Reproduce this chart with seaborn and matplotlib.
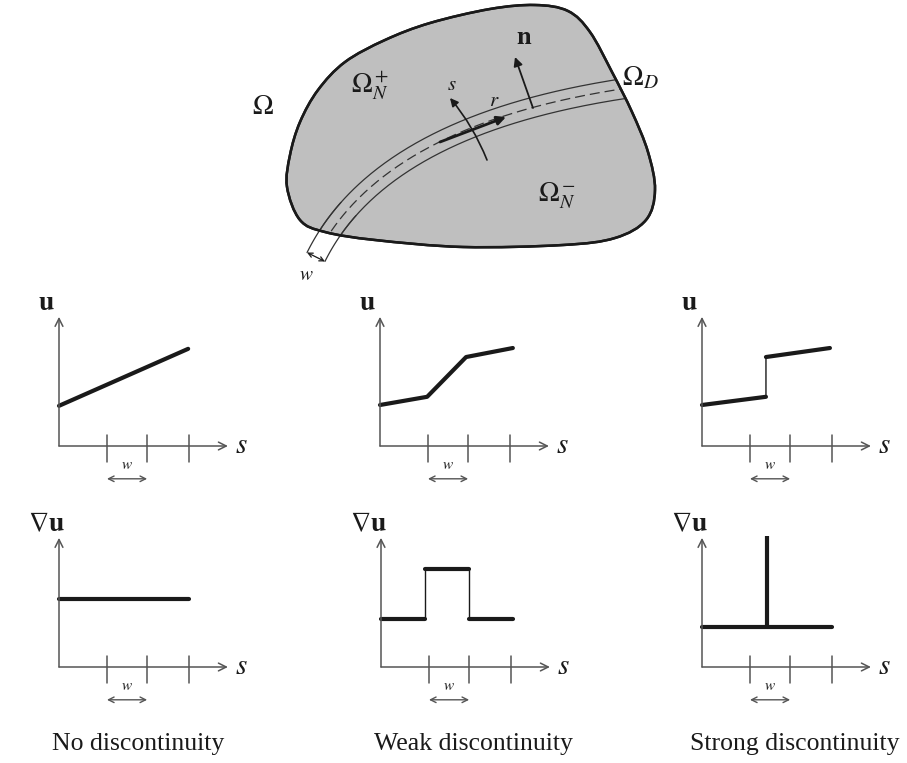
import numpy as np
import pandas as pd
import matplotlib
matplotlib.use("Agg")
import matplotlib.pyplot as plt
from matplotlib.path import Path
from matplotlib.patches import PathPatch
import seaborn as sns

sns.set_theme(style="white")
plt.rcParams['font.family'] = ['Liberation Serif', 'DejaVu Serif']
plt.rcParams['mathtext.fontset'] = 'stix'

### Data for the six small graphs (1 unit = 41 px, origin at the axes corner)
tick_pos = [1.17, 2.15, 3.17]
w_span = [1.17, 2.15]

u_none_x = [0.0, 3.15]
u_none_y = [0.98, 2.37]
u_weak_x = [0.0, 1.15, 2.10, 3.24]
u_weak_y = [1.00, 1.20, 2.17, 2.39]
u_strong_x = [0.0, 1.56, 1.56, 3.12]
u_strong_y = [1.00, 1.20, 2.17, 2.39]

du_none_x = [0.0, 3.17]
du_none_y = [1.66, 1.66]
du_weak_x = [0.0, 1.08, 1.08, 2.15, 2.15, 3.22]
du_weak_y = [1.17, 1.17, 2.39, 2.39, 1.17, 1.17]
du_strong_x = [0.0, 3.17]
du_strong_y = [0.98, 0.98]
spike_x = [1.59, 1.59]
spike_y = [0.98, 3.20]

titles = ["No discontinuity", "Weak discontinuity", "Strong discontinuity"]
title_x = [138, 473, 795]

### Domain sketch (pixel coords of the picture)
blob_pts = [(287, 187), (290, 155), (300, 122), (318, 90), (345, 62), (385, 40),
            (430, 23), (490, 9), (535, 5), (568, 11), (590, 32),
            (612, 72), (632, 112), (648, 152), (655, 190), (646, 220),
            (615, 238), (563, 245), (463, 247), (375, 240), (325, 232), (300, 220)]
band_ctrl = [(316, 257), (380, 128), (615, 90)]
band_half = 10

W, H, U = 907, 763, 41.0
fig = plt.figure(figsize=(W / 100, H / 100), dpi=100)
axc = '#555555'
ink = '#1a1a1a'


def closed_spline(pts):
    # Catmull-Rom through the outline points, as cubic Bezier pieces
    p = np.array(pts, dtype=float)
    n = len(p)
    verts, codes = [p[0]], [Path.MOVETO]
    for i in range(n):
        p0, p1, p2, p3 = p[i - 1], p[i], p[(i + 1) % n], p[(i + 2) % n]
        verts += [p1 + (p2 - p0) / 6, p2 - (p3 - p1) / 6, p2]
        codes += [Path.CURVE4] * 3
    return Path(verts, codes)


def band_line(t, off):
    a, b, c = [np.array(q, dtype=float) for q in band_ctrl]
    t = t[:, None]
    pt = (1 - t) ** 2 * a + 2 * t * (1 - t) * b + t ** 2 * c
    d = 2 * (1 - t) * (b - a) + 2 * t * (c - b)
    d = d / np.linalg.norm(d, axis=1)[:, None]
    nrm = np.column_stack([d[:, 1], -d[:, 0]])
    q = pt + off * nrm
    return q[:, 0], q[:, 1]


top = fig.add_axes([0, (H - 290) / H, 1, 290 / H])
top.set_xlim(0, W)
top.set_ylim(290, 0)
top.axis('off')

blob = PathPatch(closed_spline(blob_pts), facecolor='#bfbfbf', edgecolor=ink, lw=1.8, zorder=1)
top.add_patch(blob)

t_in = np.linspace(0, 1.08, 200)
t_tail = np.linspace(0, 0.2, 40)
for off in (band_half, -band_half):
    bx, by = band_line(t_in, off)
    ln, = top.plot(bx, by, color='#333333', lw=0.9, zorder=2)
    ln.set_clip_path(blob)
    bx, by = band_line(t_tail, off)
    top.plot(bx, by, color='#333333', lw=0.9, zorder=2)
bx, by = band_line(t_in, 0)
ln, = top.plot(bx, by, color='#333333', lw=0.9, dashes=(8, 4), zorder=2)
ln.set_clip_path(blob)
blob_edge = PathPatch(closed_spline(blob_pts), facecolor='none', edgecolor=ink, lw=1.8, zorder=3)
top.add_patch(blob_edge)

cx0, cy0 = band_line(np.array([0.0]), band_half)
cx1, cy1 = band_line(np.array([0.0]), -band_half)
top.annotate('', xy=(cx1[0], cy1[0]), xytext=(cx0[0], cy0[0]),
             arrowprops=dict(arrowstyle='<->', color=ink, lw=0.9, shrinkA=0, shrinkB=0,
                             mutation_scale=8))
top.text(306, 276, r'$w$', fontsize=14, ha='center', va='center', color=ink)

top.annotate('', xy=(450, 98), xytext=(487, 160),
             arrowprops=dict(arrowstyle='-|>', color=ink, lw=1.2, shrinkA=0, shrinkB=0,
                             mutation_scale=12, connectionstyle='arc3,rad=0.08'), zorder=4)
top.annotate('', xy=(506, 117), xytext=(440, 142),
             arrowprops=dict(arrowstyle='-|>', color=ink, lw=2.0, shrinkA=0, shrinkB=0,
                             mutation_scale=13), zorder=4)
top.annotate('', xy=(515, 57), xytext=(533, 108),
             arrowprops=dict(arrowstyle='-|>', color=ink, lw=1.3, shrinkA=0, shrinkB=0,
                             mutation_scale=13), zorder=4)

top.text(452, 86, r'$s$', fontsize=15, ha='center', va='center', color=ink)
top.text(494, 102, r'$r$', fontsize=15, ha='center', va='center', color=ink)
top.text(524, 38, r'$\mathbf{n}$', fontsize=19, ha='center', va='center', color=ink)
top.text(263, 108, r'$\Omega$', fontsize=20, ha='center', va='center', color=ink)
top.text(370, 86, r'$\Omega_N^+$', fontsize=20, ha='center', va='center', color=ink)
top.text(622, 78, r'$\Omega_D$', fontsize=20, ha='left', va='center', color=ink)
top.text(557, 196, r'$\Omega_N^-$', fontsize=20, ha='center', va='center', color=ink)


def split_runs(xs, ys):
    # keep sloped/flat pieces for the thick stroke, vertical jumps stay thin
    rows, seg = [], 0
    for i in range(len(xs)):
        if i > 0 and xs[i] == xs[i - 1]:
            seg += 1
        rows.append((seg, xs[i], ys[i]))
    df = pd.DataFrame(rows, columns=['seg', 'x', 'y'])
    return df[df.groupby('seg')['x'].transform('size') > 1]


def make_panel(ox, oy, xs, ys, ylab):
    L, R, B, T = 35, 205, 42, 152
    ax = fig.add_axes([(ox - L) / W, (H - (oy + B)) / H, (L + R) / W, (B + T) / H])
    ax.set_xlim(-L / U, R / U)
    ax.set_ylim(-B / U, T / U)
    ax.axis('off')
    ap = dict(arrowstyle='->', color=axc, lw=1.1, shrinkA=0, shrinkB=0, mutation_scale=14)
    ax.annotate('', xy=(4.12, 0), xytext=(0, 0), arrowprops=ap)
    ax.annotate('', xy=(0, 3.15), xytext=(0, 0), arrowprops=ap)
    for t in tick_pos:
        ax.plot([t, t], [-0.38, 0.27], color=axc, lw=1.1)
    ax.annotate('', xy=(w_span[1], -0.8), xytext=(w_span[0], -0.8),
                arrowprops=dict(arrowstyle='<->', color=axc, lw=1.0, shrinkA=0, shrinkB=0,
                                mutation_scale=10))
    ax.text(np.mean(w_span), -0.47, r'$w$', fontsize=11, ha='center', va='center', color=ink)
    ax.text(4.44, 0, r'$s$', fontsize=21, ha='center', va='center', color=ink)
    ax.text(-0.3, 3.47, ylab, fontsize=20, ha='center', va='center', color=ink)
    ax.plot(xs, ys, color='k', lw=1.0)
    sns.lineplot(data=split_runs(xs, ys), x='x', y='y', units='seg', estimator=None,
                 sort=False, color='k', lw=3.0, ax=ax, legend=False)
    ax.set_xlim(-L / U, R / U)
    ax.set_ylim(-B / U, T / U)
    ax.axis('off')
    return ax


make_panel(59, 446, u_none_x, u_none_y, r'$\mathbf{u}$')
make_panel(380, 446, u_weak_x, u_weak_y, r'$\mathbf{u}$')
make_panel(702, 446, u_strong_x, u_strong_y, r'$\mathbf{u}$')
make_panel(59, 667, du_none_x, du_none_y, r'$\nabla\mathbf{u}$')
make_panel(381, 667, du_weak_x, du_weak_y, r'$\nabla\mathbf{u}$')
ax6 = make_panel(702, 667, du_strong_x, du_strong_y, r'$\nabla\mathbf{u}$')
ax6.plot(spike_x, spike_y, color='k', lw=3.0, solid_capstyle='butt')

for name, xc in zip(titles, title_x):
    fig.text(xc / W, 1 - 744 / H, name, fontsize=18.5, ha='center', va='center', color=ink)

fig.savefig('out.png', dpi=100, facecolor='white')
